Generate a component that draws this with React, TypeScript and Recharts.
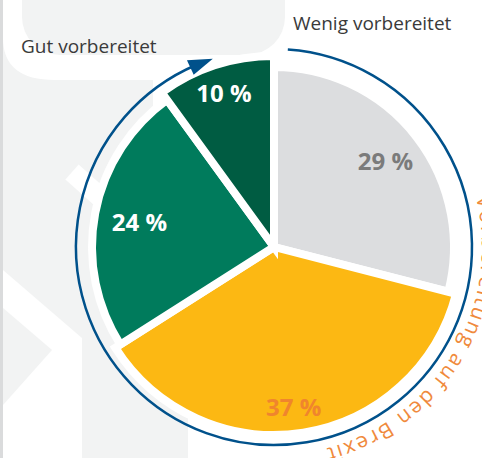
import React from "react";
import { PieChart, Pie, Cell } from "recharts";

// answers to "how prepared for Brexit", share in %
const categories = ["Wenig vorbereitet", "Eher wenig", "Eher gut", "Gut vorbereitet"];
const shares = [29, 37, 24, 10];
const shareLabels = ["29 %", "37 %", "24 %", "10 %"];

const colors = ["#dcdddf", "#fcb813", "#007b5c", "#005c42"];
const labelColors = ["#7b7b7b", "#f0852d", "#ffffff", "#ffffff"];
// each slice is cut a bit different in the original
const sliceRadius = [180, 188, 182, 191];
const labelRadius = [141, 161, 137, 162];
const labelShift = [0, 2, 0, 0];

const data = categories.map((name, i) => ({ name, value: shares[i] }));

const W = 482;
const H = 458;
const CX = 274;
const CY = 247;
const RAD = Math.PI / 180;

// clockwise angle from 12 o'clock -> screen point
const pt = (r: number, deg: number) => [CX + r * Math.sin(deg * RAD), CY - r * Math.cos(deg * RAD)];

function arcPath(r: number, from: number, to: number) {
  const [x1, y1] = pt(r, from);
  const [x2, y2] = pt(r, to);
  const large = to - from > 180 ? 1 : 0;
  return `M${x1},${y1} A${r},${r} 0 ${large} 1 ${x2},${y2}`;
}

function Background() {
  const grey = "#f2f3f3";
  return (
    <svg width={W} height={H} style={{ position: "absolute", left: 0, top: 0 }}>
      <rect x={0} y={0} width={W} height={H} fill="#ffffff" />
      <rect x={22} y={-60} width={263} height={115} rx={38} fill={grey} />
      <path d="M3,38 Q3,80 55,80 L153,80 L153,300 L188,300 L188,458 L3,458 Z" fill={grey} />
      <path d="M3,270 L82,338 L82,458 L3,458 Z" fill="#ffffff" />
      <path d="M3,308 L52,350 L3,405 Z" fill={grey} />
      <line x1={72} y1={172} x2={100} y2={197} stroke="#ffffff" strokeWidth={20} />
      <rect x={0} y={0} width={3} height={H} fill="#dadbdc" />
    </svg>
  );
}

function Decor() {
  const r = 198;
  const tip = pt(r, 342);
  const b1 = pt(r - 8, 335);
  const b2 = pt(r + 8, 335);
  return (
    <svg width={W} height={H} style={{ position: "absolute", left: 0, top: 0, overflow: "hidden" }}>
      <path d={arcPath(r, 4, 337)} fill="none" stroke="#00518b" strokeWidth={2.5} />
      <polygon points={`${tip[0]},${tip[1]} ${b1[0]},${b1[1]} ${b2[0]},${b2[1]}`} fill="#00518b" />
      <defs>
        <path id="brexitPath" d={arcPath(208, 10, 166)} />
      </defs>
      <text fontFamily="'Open Sans', sans-serif" fontSize={21} letterSpacing={2} fill="#f08a3c">
        <textPath href="#brexitPath" startOffset="100%" textAnchor="end">
          Vorbereitung auf den Brexit
        </textPath>
      </text>
      <text x={293} y={30} fontFamily="'Open Sans', sans-serif" fontSize={19} fill="#3a3a3a">
        Wenig vorbereitet
      </text>
      <text x={21} y={53} fontFamily="'Open Sans', sans-serif" fontSize={19} fill="#3a3a3a">
        Gut vorbereitet
      </text>
    </svg>
  );
}

const renderLabel = (slice: number) => (props: any) => {
  const { cx, cy, midAngle, index } = props;
  if (index !== slice) return null;
  const r = labelRadius[index];
  const a = midAngle - labelShift[index];
  const x = cx + r * Math.cos(-a * RAD);
  const y = cy + r * Math.sin(-a * RAD);
  return (
    <text
      x={x}
      y={y}
      fill={labelColors[index]}
      textAnchor="middle"
      dominantBaseline="central"
      fontFamily="'Open Sans', sans-serif"
      fontWeight={700}
      fontSize={24}
    >
      {shareLabels[index]}
    </text>
  );
};

export default function App() {
  return (
    <div style={{ position: "absolute", left: 0, top: 0, width: W, height: H, overflow: "hidden" }}>
      <Background />
      <div style={{ position: "absolute", left: 0, top: 0 }}>
        <PieChart width={W} height={H} margin={{ top: 0, right: 0, bottom: 0, left: 0 }}>
          {sliceRadius.map((rad, s) => (
            <Pie
              key={s}
              data={data}
              dataKey="value"
              cx={CX}
              cy={CY}
              outerRadius={rad}
              startAngle={90}
              endAngle={-270}
              label={renderLabel(s)}
              labelLine={false}
              isAnimationActive={false}
            >
              {data.map((d, i) => (
                <Cell
                  key={d.name}
                  fill={i === s ? colors[i] : "none"}
                  stroke={i === s ? "#ffffff" : "none"}
                  strokeWidth={8}
                />
              ))}
            </Pie>
          ))}
        </PieChart>
      </div>
      <Decor />
    </div>
  );
}
